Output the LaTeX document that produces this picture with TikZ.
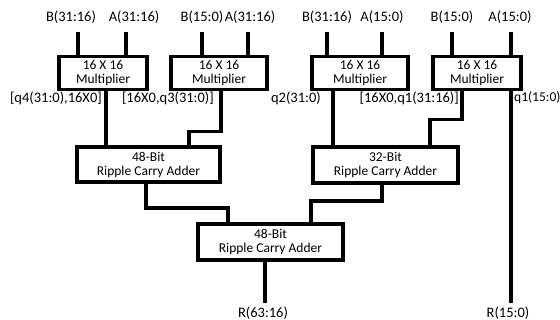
\documentclass[tikz,border=0pt]{standalone}
\usepackage{fontspec}
\setmainfont{Carlito}
\begin{document}
\begin{tikzpicture}[x=1pt,y=-1pt,
  box/.style={draw, line width=3.2pt, outer sep=0pt, inner sep=0pt, align=center, font=\fontsize{13.5}{14}\selectfont},
  wire/.style={line width=3.2pt},
  lbl/.style={font=\fontsize{14.5}{15.5}\selectfont, inner sep=0pt}]
\useasboundingbox (0,0) rectangle (560,320);
\clip (0,0) rectangle (560,320);
% boxes
\node[box, minimum width=88pt, minimum height=33pt] (m1) at (103,73) {16 X 16\\Multiplier};
\node[box, minimum width=96pt, minimum height=33pt] (m2) at (219,73) {16 X 16\\Multiplier};
\node[box, minimum width=96pt, minimum height=33pt] (m3) at (360,73) {16 X 16\\Multiplier};
\node[box, minimum width=88pt, minimum height=33pt] (m4) at (477,73) {16 X 16\\Multiplier};
\node[box, minimum width=143pt, minimum height=35pt] (a1) at (148.5,164.5) {48-Bit\\Ripple Carry Adder};
\node[box, minimum width=145pt, minimum height=36pt] (a2) at (385.5,165) {32-Bit\\Ripple Carry Adder};
\node[box, minimum width=145pt, minimum height=36pt] (a3) at (270.5,242) {48-Bit\\Ripple Carry Adder};
% input labels
\node[lbl] (b1) at (71,17) {B(31:16)};
\node[lbl] (c1) at (134,17) {A(31:16)};
\node[lbl] (b2) at (202,17) {B(15:0)};
\node[lbl] (c2) at (250,17) {A(31:16)};
\node[lbl] (b3) at (327,17) {B(31:16)};
\node[lbl] (c3) at (382,17) {A(15:0)};
\node[lbl] (b4) at (452,17) {B(15:0)};
\node[lbl] (c4) at (510,17) {A(15:0)};
% output labels
\node[lbl, anchor=east] (o1) at (102,98) {[q4(31:0),16X0]};
\node[lbl, anchor=east] (o2) at (214,98) {[16X0,q3(31:0)]};
\node[lbl, anchor=east] (o3) at (321,98) {q2(31:0)};
\node[lbl, anchor=east] (o4) at (459,98) {[16X0,q1(31:16)]};
\node[lbl, anchor=west, font=\fontsize{13.5}{14}\selectfont] (o5) at (514,98) {q1(15:0)};
\node[lbl] (r1) at (263,313) {R(63:16)};
\node[lbl] (r2) at (508,313) {R(15:0)};
% input wires
\coordinate (t1) at (78,32);  \coordinate (t2) at (126,32);
\coordinate (t3) at (202,32); \coordinate (t4) at (248,32);
\coordinate (t5) at (327,32); \coordinate (t6) at (382,32);
\coordinate (t7) at (452,32); \coordinate (t8) at (511,32);
\draw[wire] (t1) -- (t1 |- m1.north);
\draw[wire] (t2) -- (t2 |- m1.north);
\draw[wire] (t3) -- (t3 |- m2.north);
\draw[wire] (t4) -- (t4 |- m2.north);
\draw[wire] (t5) -- (t5 |- m3.north);
\draw[wire] (t6) -- (t6 |- m3.north);
\draw[wire] (t7) -- (t7 |- m4.north);
\draw[wire] (t8) -- (t8 |- m4.north);
% multiplier outputs
\draw[wire] ([xshift=47pt]m1.south west) -- ([xshift=29pt]a1.north west);
\draw[wire] ([xshift=50pt]m2.south west) -- ++(0,42) -| ([xshift=112pt]a1.north west);
\draw[wire] ([xshift=21pt]m3.south west) -- ([xshift=20pt]a2.north west);
\draw[wire] ([xshift=29pt]m4.south west) -- ++(0,30) -| ([xshift=117pt]a2.north west);
\coordinate (e2) at (511,303);
\draw[wire] ([xshift=78pt]m4.south west) -- (e2);
% adder outputs
\draw[wire] ([xshift=69pt]a1.south west) -- ++(0,26) -| ([xshift=30pt]a3.north west);
\draw[wire] ([xshift=69pt]a2.south west) -- ++(0,18) -| ([xshift=113pt]a3.north west);
\coordinate (e1) at (265,303);
\draw[wire] ([xshift=67pt]a3.south west) -- (e1);
\end{tikzpicture}
\end{document}
